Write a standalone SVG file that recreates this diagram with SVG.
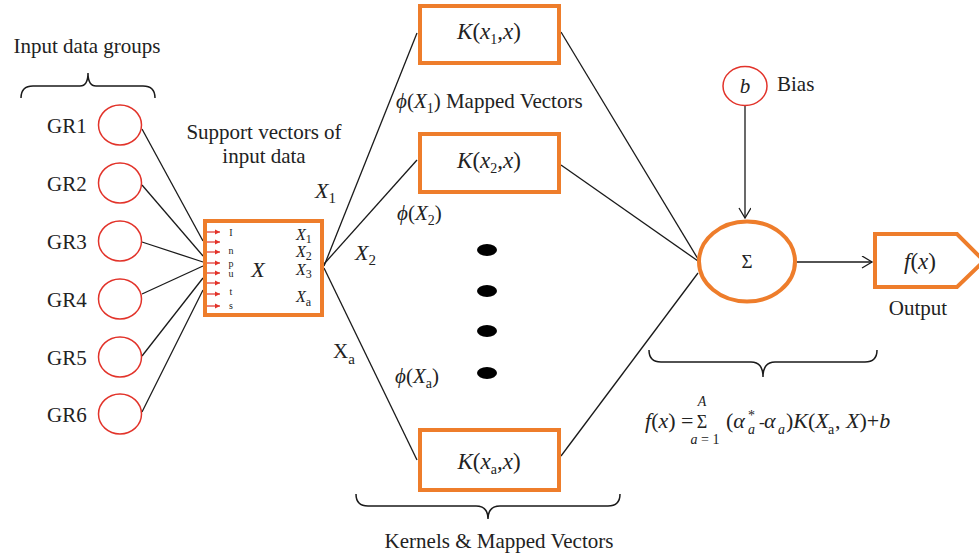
<svg xmlns="http://www.w3.org/2000/svg" width="979" height="559" viewBox="0 0 979 559">
<defs>
<style>
text{font-family:"Liberation Serif","DejaVu Serif",serif;fill:#222}
.t{font-size:21px}
.i{font-style:italic}
.s{font-size:12px}
.ln{stroke:#1a1a1a;stroke-width:1.3;fill:none}
.br{stroke:#1a1a1a;stroke-width:1.5;fill:none}
.or{stroke:#EE7D2B;stroke-width:4;fill:#fff}
.rc{stroke:#E2332A;stroke-width:1.5;fill:#fff}
.ra{stroke:#E2332A;stroke-width:1.2}
</style>
<marker id="chev" markerWidth="14" markerHeight="14" refX="11" refY="6" orient="auto" markerUnits="userSpaceOnUse">
<path d="M1,0 L11,6 L1,12" fill="none" stroke="#1a1a1a" stroke-width="1.3"/>
</marker>
<marker id="ra" markerWidth="6" markerHeight="6" refX="5" refY="3" orient="auto" markerUnits="userSpaceOnUse">
<path d="M0,0.5 L5,3 L0,5.5 Z" fill="#E2332A"/>
</marker>
</defs>
<rect width="979" height="559" fill="#fff"/>

<g id="connectors">
<line class="ln" x1="142" y1="129" x2="203" y2="241"/>
<line class="ln" x1="142" y1="185" x2="203" y2="256"/>
<line class="ln" x1="142" y1="242" x2="203" y2="262"/>
<line class="ln" x1="142" y1="294" x2="203" y2="266"/>
<line class="ln" x1="142" y1="356" x2="203" y2="278"/>
<line class="ln" x1="142" y1="412" x2="203" y2="290"/>
<line class="ln" x1="324" y1="266" x2="417" y2="33"/>
<line class="ln" x1="324" y1="264" x2="417" y2="160"/>
<line class="ln" x1="324" y1="268" x2="417" y2="460"/>
<line class="ln" x1="561" y1="32" x2="698" y2="259"/>
<line class="ln" x1="561" y1="165" x2="698" y2="261"/>
<line class="ln" x1="561" y1="456" x2="698" y2="273"/>
<line class="ln" x1="745" y1="106" x2="745" y2="218" marker-end="url(#chev)"/>
<line class="ln" x1="797" y1="262" x2="872" y2="262" marker-end="url(#chev)"/>
</g>

<g id="input-label">
<text class="t" x="87" y="53" text-anchor="middle">Input data groups</text>
<path class="br" d="M21,98 Q21,86 33,86 L80,86 Q88,86 88,73 Q88,86 96,86 L143,86 Q155,86 155,98"/>
</g>

<g id="gr1"><ellipse class="rc" cx="120" cy="125" rx="21.5" ry="20"/><text class="t" x="47" y="133">GR1</text></g>
<g id="gr2"><ellipse class="rc" cx="120" cy="183" rx="21.5" ry="20"/><text class="t" x="47" y="191">GR2</text></g>
<g id="gr3"><ellipse class="rc" cx="120" cy="241" rx="21.5" ry="20"/><text class="t" x="47" y="249">GR3</text></g>
<g id="gr4"><ellipse class="rc" cx="120" cy="299" rx="21.5" ry="20"/><text class="t" x="47" y="307">GR4</text></g>
<g id="gr5"><ellipse class="rc" cx="120" cy="357" rx="21.5" ry="20"/><text class="t" x="47" y="365">GR5</text></g>
<g id="gr6"><ellipse class="rc" cx="120" cy="414" rx="21.5" ry="20"/><text class="t" x="47" y="422">GR6</text></g>

<g id="support-label">
<text class="t" x="264" y="139" text-anchor="middle">Support vectors of</text>
<text class="t" x="264" y="163" text-anchor="middle">input data</text>
</g>

<g id="box-x">
<rect class="or" x="205" y="221" width="117" height="94"/>
<g>
<line class="ra" x1="207" y1="232" x2="220" y2="232" marker-end="url(#ra)"/>
<line class="ra" x1="207" y1="242" x2="220" y2="242" marker-end="url(#ra)"/>
<line class="ra" x1="207" y1="252" x2="220" y2="252" marker-end="url(#ra)"/>
<line class="ra" x1="207" y1="263" x2="220" y2="263" marker-end="url(#ra)"/>
<line class="ra" x1="207" y1="273" x2="220" y2="273" marker-end="url(#ra)"/>
<line class="ra" x1="207" y1="283" x2="220" y2="283" marker-end="url(#ra)"/>
<line class="ra" x1="207" y1="294" x2="220" y2="294" marker-end="url(#ra)"/>
<line class="ra" x1="207" y1="306" x2="220" y2="306" marker-end="url(#ra)"/>
</g>
<g style="font-size:10px" text-anchor="middle">
<text x="231" y="236">I</text>
<text x="231" y="254">n</text>
<text x="231" y="267">p</text>
<text x="231" y="277">u</text>
<text x="231" y="295">t</text>
<text x="231" y="309">s</text>
</g>
<text class="i" x="258" y="277" text-anchor="middle" style="font-size:22px">X</text>
<text class="i" x="296" y="240" style="font-size:16px">X<tspan class="s" dy="3" font-style="normal">1</tspan></text>
<text class="i" x="296" y="257" style="font-size:16px">X<tspan class="s" dy="3" font-style="normal">2</tspan></text>
<text class="i" x="296" y="275" style="font-size:16px">X<tspan class="s" dy="3" font-style="normal">3</tspan></text>
<text class="i" x="296" y="302" style="font-size:16px">X<tspan class="s" dy="4" font-style="normal">a</tspan></text>
</g>

<g id="edge-labels">
<text class="i" x="315" y="198" style="font-size:22px">X<tspan dy="5" font-style="normal" style="font-size:15px">1</tspan></text>
<text class="i" x="355" y="260" style="font-size:22px">X<tspan dy="5" font-style="normal" style="font-size:15px">2</tspan></text>
<text x="333" y="358" style="font-size:21px">X<tspan dy="6" style="font-size:15px">a</tspan></text>
<text x="396" y="108" style="font-size:21px"><tspan class="i">ϕ</tspan>(<tspan class="i">X</tspan><tspan dy="5" style="font-size:14px">1</tspan><tspan dy="-5">) Mapped Vectors</tspan></text>
<text x="397" y="220" style="font-size:21px"><tspan class="i">ϕ</tspan>(<tspan class="i">X</tspan><tspan dy="5" style="font-size:14px">2</tspan><tspan dy="-5">)</tspan></text>
<text x="395" y="383" style="font-size:21px"><tspan class="i">ϕ</tspan>(<tspan class="i">X</tspan><tspan dy="5" style="font-size:14px">a</tspan><tspan dy="-5">)</tspan></text>
</g>

<g id="kernel-1">
<rect class="or" x="420" y="6" width="139" height="57"/>
<text x="489" y="39" text-anchor="middle" style="font-size:23px"><tspan class="i">K</tspan>(<tspan class="i">x</tspan><tspan dy="5" style="font-size:14px">1</tspan><tspan dy="-5">,</tspan><tspan class="i">x</tspan>)</text>
</g>
<g id="kernel-2">
<rect class="or" x="420" y="134" width="139" height="58"/>
<text x="489" y="168" text-anchor="middle" style="font-size:23px"><tspan class="i">K</tspan>(<tspan class="i">x</tspan><tspan dy="5" style="font-size:14px">2</tspan><tspan dy="-5">,</tspan><tspan class="i">x</tspan>)</text>
</g>
<g id="kernel-a">
<rect class="or" x="420" y="430" width="139" height="60"/>
<text x="489" y="469" text-anchor="middle" style="font-size:23px"><tspan class="i">K</tspan>(<tspan class="i">x</tspan><tspan dy="5" style="font-size:14px">a</tspan><tspan dy="-5">,</tspan><tspan class="i">x</tspan>)</text>
</g>

<g id="dots" fill="#000">
<ellipse cx="487" cy="250" rx="10" ry="6"/>
<ellipse cx="487" cy="291" rx="10" ry="6"/>
<ellipse cx="487" cy="331" rx="10" ry="6"/>
<ellipse cx="487" cy="373" rx="10" ry="6"/>
</g>

<g id="kernels-label">
<path class="br" d="M356,494 Q356,506 368,506 L476,506 Q488,506 488,519 Q488,506 500,506 L608,506 Q620,506 620,494"/>
<text class="t" x="499" y="548" text-anchor="middle">Kernels &amp; Mapped Vectors</text>
</g>

<g id="bias">
<ellipse class="rc" cx="745" cy="86" rx="22" ry="19.5"/>
<text class="i" x="745" y="93" text-anchor="middle" style="font-size:21px">b</text>
<text class="t" x="777" y="91">Bias</text>
</g>

<g id="sum">
<ellipse class="or" cx="747" cy="261.5" rx="48" ry="40"/>
<text x="747" y="268" text-anchor="middle" style="font-size:19px">Σ</text>
</g>

<g id="output">
<path class="or" d="M875,234 L957,234 L984,261 L957,287 L875,287 Z"/>
<text x="920" y="269" text-anchor="middle" style="font-size:23px"><tspan class="i">f</tspan>(<tspan class="i">x</tspan>)</text>
<text class="t" x="918" y="315" text-anchor="middle">Output</text>
</g>

<g id="formula">
<path class="br" d="M649,350 Q649,362 661,362 L751,362 Q763,362 763,377 Q763,362 775,362 L865,362 Q877,362 877,350"/>
<text x="645" y="428" style="font-size:22px"><tspan class="i">f</tspan>(<tspan class="i">x</tspan>) =</text>
<text x="702" y="428" text-anchor="middle" style="font-size:18px">Σ</text>
<text class="i" x="702" y="406" text-anchor="middle" style="font-size:14px">A</text>
<text x="705" y="444" text-anchor="middle" style="font-size:14px"><tspan class="i">a</tspan> = 1</text>
<text x="726" y="428" style="font-size:22px">(<tspan class="i">α</tspan></text>
<text x="748" y="420" style="font-size:14px">*</text>
<text class="i" x="748" y="434" style="font-size:14px">a</text>
<text x="759" y="428" style="font-size:17px">-</text>
<text class="i" x="764" y="428" style="font-size:22px">α</text>
<text class="i" x="778" y="434" style="font-size:14px">a</text>
<text x="786" y="428" style="font-size:22px">)<tspan class="i">K</tspan>(<tspan class="i">X</tspan></text>
<text x="828" y="434" style="font-size:14px">a</text>
<text x="835" y="428" style="font-size:22px">, <tspan class="i">X</tspan>)+<tspan class="i">b</tspan></text>
</g>
</svg>
